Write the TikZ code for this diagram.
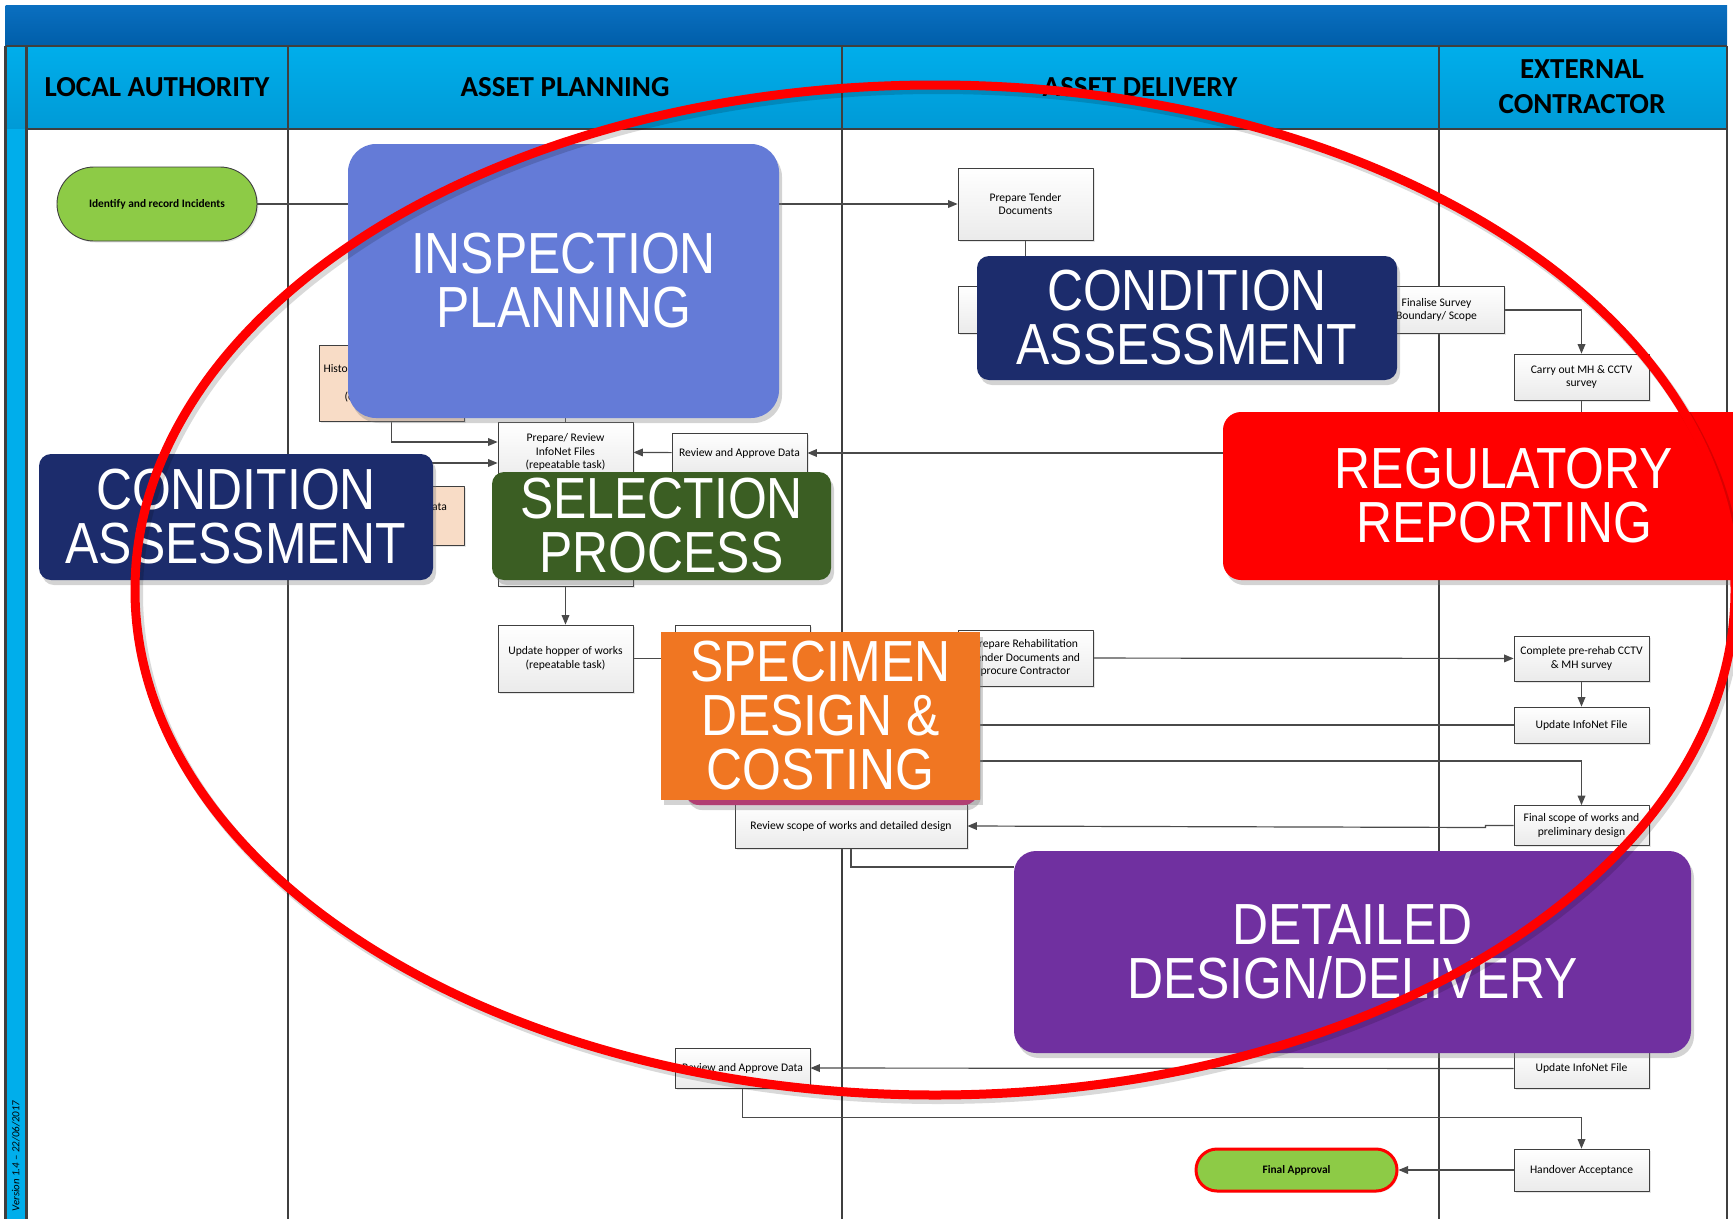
\documentclass[tikz,border=0pt]{standalone}
\usepackage{fontspec}
\setmainfont{Carlito}
\newfontfamily\bigfont[FakeStretch=0.86]{Liberation Sans}
\usetikzlibrary{arrows,shadows}
\definecolor{topblue}{HTML}{0A6FC0}
\definecolor{topblued}{HTML}{005EA9}
\definecolor{headcyan}{HTML}{00AEEB}
\definecolor{headcyand}{HTML}{009AD6}
\definecolor{lanegray}{HTML}{3F3F3F}
\definecolor{linegray}{HTML}{4A4A4A}
\definecolor{peach}{HTML}{F8DCC6}
\definecolor{startgreen}{HTML}{8DCB46}
\definecolor{inspblue}{HTML}{647BD7}
\definecolor{navy}{HTML}{1C2C6C}
\definecolor{selgreen}{HTML}{3B5E23}
\definecolor{specorange}{HTML}{F07622}
\definecolor{magenta}{HTML}{CC1C6C}
\definecolor{delpurple}{HTML}{7030A0}
\pgfdeclarelayer{lanes}
\pgfdeclarelayer{links}
\pgfsetlayers{lanes,links,main}

\begin{document}
\begin{tikzpicture}[line cap=round,line join=round,>=triangle 45,x=1pt,y=-1pt,
	lane/.style={draw=lanegray,line width=2.5pt},
	head/.style={font=\bfseries\fontsize{29}{35}\selectfont,align=center},
	task/.style={draw=lanegray,line width=0.9pt,top color=white,bottom color=gray!16,minimum width=135pt,inner sep=1pt,align=center,font=\fontsize{11.6}{13.5}\selectfont,drop shadow={opacity=0.2,shadow xshift=1.5pt,shadow yshift=-1.5pt}},
	oldtask/.style={draw=lanegray,line width=0.9pt,fill=peach,inner sep=0pt,drop shadow={opacity=0.2,shadow xshift=1.5pt,shadow yshift=-1.5pt}},
	terminal/.style={draw=lanegray,line width=0.9pt,fill=startgreen,font=\bfseries\fontsize{11.4}{13}\selectfont,inner sep=0pt,drop shadow={opacity=0.2,shadow xshift=1.5pt,shadow yshift=-1.5pt}},
	stage/.style={text=white,align=center,inner sep=0pt,font=\bigfont\fontsize{58}{54}\selectfont,drop shadow={opacity=0.35,shadow xshift=3pt,shadow yshift=-5pt}},
	flow/.style={draw=linegray,line width=1.2pt,->},
	conn/.style={draw=linegray,line width=1.2pt},
	]
	\useasboundingbox (0,0) rectangle (1733,1219);
	% swimlanes
	\begin{pgfonlayer}{lanes}
		\shade[top color=topblue,bottom color=topblued] (5.5,5.5) rectangle (1727,46);
		\shade[top color=headcyan,bottom color=headcyand] (5.5,46) rectangle (1727,129);
		\fill[headcyan] (5.5,129) rectangle (26.5,1219);
		\foreach \lx in {5.5,26.5,288,842,1439,1727}
			\draw[lane] (\lx,46) -- (\lx,1219);
		\draw[lane] (5.5,46) -- (1727,46);
		\draw[lane] (26.5,129) -- (1727,129);
	\end{pgfonlayer}
	\node[head] (hla) at (157,87) {LOCAL AUTHORITY};
	\node[head] (hap) at (565,87) {ASSET PLANNING};
	\node[head] (had) at (1140,87) {ASSET DELIVERY};
	\node[head] (hec) at (1582,87) {EXTERNAL\\CONTRACTOR};
	\node[rotate=90,font=\itshape\fontsize{10.8}{12}\selectfont] (ver) at (16,1156) {Version 1.4 -- 22/06/2017};
	% tasks
	\node[terminal,minimum width=200pt,minimum height=74pt,rounded corners=37pt] (identify) at (157,204) {Identify and record Incidents};
	\node[task,minimum height=72pt] (tender) at (1025.5,204) {Prepare Tender\\Documents};
	\node[task,minimum height=47pt] (tenderb) at (1025.5,310) {};
	\node[task,minimum height=47pt] (finalise) at (1436.5,310) {Finalise Survey\\Boundary/ Scope};
	\node[task,minimum height=46pt] (carry) at (1581.5,377) {Carry out MH \& CCTV\\survey};
	\node[oldtask,minimum width=145pt,minimum height=76pt] (histo) at (391.5,383) {};
	\node[anchor=west,font=\fontsize{11.6}{13}\selectfont] (histoa) at (320,369) {Histo};
	\node[anchor=west,font=\fontsize{11.6}{13}\selectfont] (histob) at (341,397) {(e};
	\node[oldtask,minimum width=145pt,minimum height=59pt] (ata) at (391.5,515.5) {};
	\node[anchor=west,font=\fontsize{11.6}{13}\selectfont,inner sep=0pt] (atal) at (432,507) {ata};
	\node[task,minimum height=60pt] (prep) at (565.5,452) {Prepare/ Review\\InfoNet Files\\(repeatable task)};
	\node[task,minimum height=40pt] (approvea) at (739.5,453) {Review and Approve Data};
	\node[task,minimum height=86pt] (selbox) at (565.5,543) {};
	\node[task,minimum height=67pt] (hopper) at (565.5,658.5) {Update hopper of works\\(repeatable task)};
	\node[task,minimum height=67pt] (specbox) at (743,658.5) {};
	\node[task,minimum height=56pt] (rehab) at (1025.5,658) {Prepare Rehabilitation\\Tender Documents and\\procure Contractor};
	\node[task,minimum height=45pt] (precctv) at (1581.5,658.5) {Complete pre-rehab CCTV\\\& MH survey};
	\node[task,minimum height=36pt] (infoneta) at (1581.5,725) {Update InfoNet File};
	\node[task,minimum height=40pt] (finalscope) at (1581.5,825.5) {Final scope of works and\\preliminary design};
	\node[task,minimum width=232pt,minimum height=44pt] (reviewscope) at (851,826) {Review scope of works and detailed design};
	\node[task,minimum height=39pt] (infonetb) at (1581.5,1068.5) {Update InfoNet File};
	\node[task,minimum height=40pt] (approveb) at (742.5,1068) {Review and Approve Data};
	\node[task,minimum height=42pt] (handover) at (1581.5,1170) {Handover Acceptance};
	\node[terminal,draw=red,line width=3pt,minimum width=201pt,minimum height=42pt,rounded corners=21pt] (finalapp) at (1296.5,1170) {Final Approval};
	% stages
	\node[stage,fill=inspblue,rounded corners=28pt,minimum width=431pt,minimum height=274pt] (inspect) at (563.5,281) {INSPECTION\\PLANNING};
	\node[stage,fill=navy,rounded corners=12pt,minimum width=420pt,minimum height=124pt] (catop) at (1187,318) {CONDITION\\ASSESSMENT};
	\node[stage,fill=navy,rounded corners=12pt,minimum width=394pt,minimum height=126pt] (caleft) at (236,517) {CONDITION\\ASSESSMENT};
	\node[stage,fill=selgreen,rounded corners=12pt,minimum width=339pt,minimum height=108pt] (select) at (661.5,526) {SELECTION\\PROCESS};
	\node[stage,fill=red,rounded corners=18pt,minimum width=562pt,minimum height=168pt] (regrep) at (1504,496) {REGULATORY\\REPORTING};
	\node[stage,fill=magenta,rounded corners=14pt,minimum width=293pt,minimum height=165pt] (magbox) at (831.5,722.5) {};
	\node[stage,fill=specorange,minimum width=319pt,minimum height=168pt,drop shadow={opacity=0}] (specimen) at (820.5,716) {SPECIMEN\\DESIGN \&\\COSTING};
	\node[stage,fill=delpurple,rounded corners=22pt,minimum width=677pt,minimum height=202pt] (detailed) at (1352.5,952) {DETAILED\\DESIGN/DELIVERY};
	% connectors
	\begin{pgfonlayer}{links}
		\draw[flow] (identify) -- (tender);
		\draw[conn] (tender) -- (tenderb);
		\draw[flow] (tenderb) -- (finalise);
		\draw[flow] (finalise.east) -| (carry.north);
		\draw[conn] (carry.south) -- ++(0,60);
		\draw[flow] (regrep.west |- approvea) -- (approvea.east);
		\draw[flow] (approvea) -- (prep);
		\draw[flow] (histo.south) |- ([yshift=10pt]prep.west);
		\draw[flow] (ata.north) |- ([yshift=-11pt]prep.west);
		\draw[conn] (inspect.south -| prep) -- (prep.north);
		\draw[flow] (selbox) -- (hopper);
		\draw[conn] (hopper) -- (specbox);
		\draw[flow] (rehab) -- (precctv);
		\draw[flow] (precctv) -- (infoneta);
		\draw[conn] (infoneta.west) -- (infoneta.west -| specimen.east);
		\draw[flow] ([yshift=-45pt]specimen.east) -| (finalscope.north);
		\draw[flow] (finalscope.west) -- ++(-28,0) -- ++(0,2) -- (reviewscope.east);
		\draw[conn] (reviewscope.south) |- ([yshift=85pt]detailed.west);
		\draw[flow] (infonetb) -- (approveb);
		\draw[flow] (approveb.south) -- ++(0,29) -| (handover.north);
		\draw[flow] (handover) -- (finalapp);
	\end{pgfonlayer}
	% scope outline
	\draw[black,opacity=0.15,line width=10pt] (938,594) ellipse [x radius=800pt,y radius=505pt];
	\draw[red,line width=9pt] (935,590) ellipse [x radius=800pt,y radius=505pt];
\end{tikzpicture}
\end{document}
